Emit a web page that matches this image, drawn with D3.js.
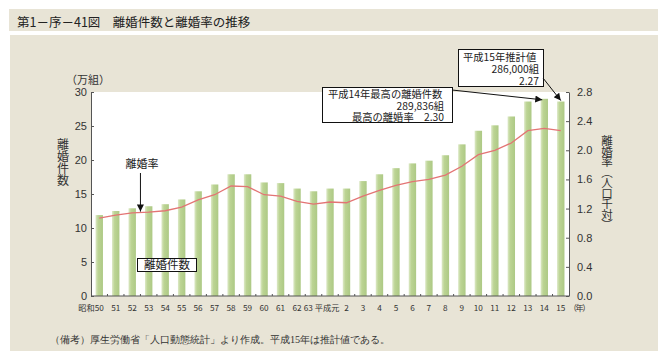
<!DOCTYPE html>
<html>
<head>
<meta charset="utf-8">
<script src="https://cdn.jsdelivr.net/npm/d3@7"></script>
<style>
  body { margin: 0; background: #fff; }
  svg { display: block; font-family: "Noto Sans CJK JP", sans-serif; }
</style>
</head>
<body>
<div id="chart"></div>
<script>
// years (Showa 50 .. Heisei 15)
var yearLabels = ["昭和50", "51", "52", "53", "54", "55", "56", "57", "58", "59", "60", "61", "62", "63",
  "平成元", "2", "3", "4", "5", "6", "7", "8", "9", "10", "11", "12", "13", "14", "15"];

// divorces, 10,000 couples
var divorceCount = [11.9, 12.5, 12.9, 13.2, 13.5, 14.2, 15.4, 16.4, 17.9, 17.9, 16.7, 16.6, 15.8, 15.4,
  15.8, 15.8, 16.9, 17.9, 18.8, 19.5, 19.9, 20.7, 22.3, 24.3, 25.1, 26.4, 28.6, 29.0, 28.6];

// divorce rate, per 1,000 population
var divorceRate = [1.07, 1.11, 1.14, 1.15, 1.17, 1.22, 1.32, 1.39, 1.51, 1.50, 1.39, 1.37, 1.30, 1.26,
  1.29, 1.28, 1.37, 1.45, 1.52, 1.57, 1.60, 1.66, 1.78, 1.94, 2.00, 2.10, 2.27, 2.30, 2.27];

var leftTicks = [0, 5, 10, 15, 20, 25, 30];
var rightTicks = [0, 0.4, 0.8, 1.2, 1.6, 2.0, 2.4, 2.8];

var W = 666, H = 361;
var plot = { left: 91, right: 569, top: 92, bottom: 296 };

var svg = d3.select("#chart").append("svg")
  .attr("width", W)
  .attr("height", H);

// backgrounds
svg.append("rect").attr("x", 9).attr("y", 9).attr("width", 649).attr("height", 22).attr("fill", "#e8e4d6");
svg.append("rect").attr("x", 10).attr("y", 35).attr("width", 648).attr("height", 316).attr("fill", "#e8e4d6");
svg.append("rect")
  .attr("x", plot.left).attr("y", plot.top)
  .attr("width", plot.right - plot.left).attr("height", plot.bottom - plot.top)
  .attr("fill", "#fff");

svg.append("text")
  .attr("x", 17).attr("y", 26.5)
  .attr("font-size", 12.5)
  .attr("fill", "#222")
  .text("第1－序－41図　離婚件数と離婚率の推移");

var defs = svg.append("defs");
var grad = defs.append("linearGradient").attr("id", "barGrad")
  .attr("x1", 0).attr("x2", 1).attr("y1", 0).attr("y2", 0);
grad.append("stop").attr("offset", "0%").attr("stop-color", "#dde9c7");
grad.append("stop").attr("offset", "35%").attr("stop-color", "#bcd494");
grad.append("stop").attr("offset", "100%").attr("stop-color", "#adc985");

defs.append("marker").attr("id", "arrow")
  .attr("viewBox", "0 0 10 10")
  .attr("refX", 10).attr("refY", 5)
  .attr("markerWidth", 10).attr("markerHeight", 7)
  .attr("markerUnits", "userSpaceOnUse")
  .attr("orient", "auto")
  .append("path").attr("d", "M0,0 L10,5 L0,10 Z").attr("fill", "#111");

var x = d3.scaleBand()
  .domain(d3.range(yearLabels.length))
  .range([plot.left, plot.right])
  .padding(0);

var yL = d3.scaleLinear().domain([0, 30]).range([plot.bottom, plot.top]);
var yR = d3.scaleLinear().domain([0, 2.8]).range([plot.bottom, plot.top]);

var barW = x.bandwidth() * 0.45;
var cx = function(i) { return x(i) + x.bandwidth() / 2; };

// bars
svg.append("g").selectAll("rect")
  .data(divorceCount)
  .enter()
  .append("rect")
  .attr("x", function(d, i) { return cx(i) - barW / 2; })
  .attr("y", function(d) { return yL(d); })
  .attr("width", barW)
  .attr("height", function(d) { return yL(0) - yL(d); })
  .attr("fill", "url(#barGrad)");

// rate line
var line = d3.line()
  .x(function(d, i) { return cx(i); })
  .y(function(d) { return yR(d); });

svg.append("path")
  .datum(divorceRate)
  .attr("d", line)
  .attr("fill", "none")
  .attr("stroke", "#e37474")
  .attr("stroke-width", 1.3);

// axes
var axisColor = "#555";
var gL = svg.append("g")
  .attr("transform", "translate(" + plot.left + ",0)")
  .call(d3.axisLeft(yL).tickValues(leftTicks).tickSizeInner(-3).tickSizeOuter(0).tickPadding(4));
var gR = svg.append("g")
  .attr("transform", "translate(" + plot.right + ",0)")
  .call(d3.axisRight(yR).tickValues(rightTicks).tickFormat(d3.format(".1f"))
    .tickSizeInner(-3).tickSizeOuter(0).tickPadding(8));

[gL, gR].forEach(function(g) {
  g.select(".domain").attr("stroke", axisColor);
  g.selectAll(".tick line").attr("stroke", axisColor);
  g.selectAll("text")
    .attr("font-family", "'Liberation Sans', Arial, sans-serif")
    .attr("font-size", 11)
    .attr("fill", "#333");
});

// bottom axis with ticks at band boundaries
svg.append("line")
  .attr("x1", plot.left).attr("x2", plot.right)
  .attr("y1", plot.bottom).attr("y2", plot.bottom)
  .attr("stroke", axisColor);

svg.append("g").selectAll("line")
  .data(d3.range(1, yearLabels.length))
  .enter()
  .append("line")
  .attr("x1", function(i) { return x(i); })
  .attr("x2", function(i) { return x(i); })
  .attr("y1", plot.bottom).attr("y2", plot.bottom - 2)
  .attr("stroke", axisColor);

var xl = svg.append("g")
  .attr("font-size", 8.2)
  .attr("fill", "#333");

// number part centred on the band, era prefix hangs to the left
var labelNodes = [];
yearLabels.forEach(function(lab, i) {
  var m = lab.match(/^(昭和|平成)(.*)$/);
  var t = xl.append("text").attr("y", 311).text(m ? m[2] : lab);
  var w = t.node().getComputedTextLength();
  t.text(lab)
    .attr("text-anchor", "end")
    .attr("x", cx(i) + w / 2);
  labelNodes.push(t);
});

// push apart neighbours that collide
for (var i = 0; i < labelNodes.length - 1; i++) {
  var a = labelNodes[i].node().getBBox();
  var b = labelNodes[i + 1].node().getBBox();
  var over = a.x + a.width + 1.5 - b.x;
  if (over > 0) {
    labelNodes[i].attr("x", +labelNodes[i].attr("x") - over / 2);
    labelNodes[i + 1].attr("x", +labelNodes[i + 1].attr("x") + over / 2);
  }
}

xl.append("text")
  .attr("x", cx(yearLabels.length - 1) + 8).attr("y", 311)
  .attr("letter-spacing", -1.5)
  .text("（年）");

// axis titles
svg.append("text")
  .attr("x", 66).attr("y", 84)
  .attr("font-size", 11).attr("fill", "#333")
  .text("（万組）");

svg.append("text")
  .attr("x", 63).attr("y", 138)
  .attr("font-size", 12).attr("fill", "#333")
  .style("writing-mode", "vertical-rl")
  .text("離婚件数");

svg.append("text")
  .attr("x", 607).attr("y", 135)
  .attr("font-size", 11.5).attr("fill", "#333")
  .style("writing-mode", "vertical-rl")
  .attr("letter-spacing", -1)
  .text("離婚率（人口千対）");

// annotations
svg.append("text")
  .attr("x", 142).attr("y", 168)
  .attr("text-anchor", "middle")
  .attr("font-size", 11).attr("fill", "#222")
  .text("離婚率");

var rateMid = (divorceRate[2] + divorceRate[3]) / 2;
svg.append("line")
  .attr("x1", x(3)).attr("x2", x(3))
  .attr("y1", 173).attr("y2", yR(rateMid) - 1)
  .attr("stroke", "#111").attr("stroke-width", 1)
  .attr("marker-end", "url(#arrow)");

svg.append("rect")
  .attr("x", 137.5).attr("y", 258.5).attr("width", 59).attr("height", 13)
  .attr("fill", "#fff").attr("stroke", "#111");
svg.append("text")
  .attr("x", 167).attr("y", 269)
  .attr("text-anchor", "middle")
  .attr("font-size", 11.5).attr("fill", "#222")
  .text("離婚件数");

// estimate box (Heisei 15)
var last = yearLabels.length - 1;
svg.append("rect")
  .attr("x", 458.5).attr("y", 49.5).attr("width", 85).attr("height", 37)
  .attr("fill", "#fff").attr("stroke", "#111");
var b1 = svg.append("g").attr("font-size", 10.3).attr("fill", "#222");
b1.append("text").attr("x", 463).attr("y", 61).text("平成15年推計値");
b1.append("text").attr("x", 539).attr("y", 73).attr("text-anchor", "end").text("286,000組");
b1.append("text").attr("x", 539).attr("y", 84.5).attr("text-anchor", "end").text("2.27");

svg.append("line")
  .attr("x1", 543).attr("y1", 78)
  .attr("x2", cx(last)).attr("y2", yL(divorceCount[last]) - 1)
  .attr("stroke", "#111")
  .attr("marker-end", "url(#arrow)");

// peak box (Heisei 14)
svg.append("rect")
  .attr("x", 322.5).attr("y", 87.5).attr("width", 130).attr("height", 35)
  .attr("fill", "#fff").attr("stroke", "#111");
var b2 = svg.append("g").attr("font-size", 10.3).attr("fill", "#222");
b2.append("text").attr("x", 328).attr("y", 98).text("平成14年最高の離婚件数");
b2.append("text").attr("x", 444).attr("y", 109.5).attr("text-anchor", "end").text("289,836組");
b2.append("text").attr("x", 444).attr("y", 121).attr("text-anchor", "end").text("最高の離婚率　2.30");

svg.append("line")
  .attr("x1", 452).attr("y1", 90)
  .attr("x2", cx(last - 1) - 2).attr("y2", yL(divorceCount[last - 1]) + 1)
  .attr("stroke", "#111")
  .attr("marker-end", "url(#arrow)");

// footnote
svg.append("text")
  .attr("x", 50).attr("y", 343)
  .attr("font-size", 10.2).attr("fill", "#333")
  .style("font-family", "serif")
  .text("（備考）厚生労働省「人口動態統計」より作成。平成15年は推計値である。");
</script>
</body>
</html>
